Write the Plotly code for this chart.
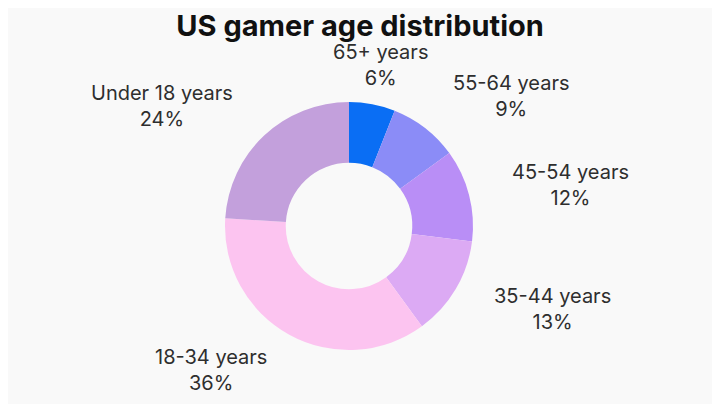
import math
import plotly.graph_objects as go

age_groups = ["65+ years", "55-64 years", "45-54 years", "35-44 years", "18-34 years", "Under 18 years"]
shares = [6, 9, 12, 13, 36, 24]
slice_colors = ["#0a6ef4", "#8b8cf7", "#b98ef6", "#dcaaf4", "#fcc4f0", "#c3a0dc"]

# donut geometry in px (figure coords)
W, H = 720, 404
cx, cy = 341, 186          # centre, y measured from bottom
R = 124
label_rx, label_ry = 166, 164

fig = go.Figure(go.Pie(
    labels=age_groups,
    values=shares,
    hole=0.51,
    sort=False,
    direction="clockwise",
    rotation=0,
    marker=dict(colors=slice_colors, line=dict(width=0)),
    textinfo="none",
    hoverinfo="label+percent",
    domain=dict(x=[(cx - R) / W, (cx + R) / W], y=[(cy - R) / H, (cy + R) / H]),
    showlegend=False,
))

# outside labels placed around the mid angle of each slice
total = sum(shares)
cum = 0
for lab, v in zip(age_groups, shares):
    mid = (cum + v / 2) / total * 2 * math.pi
    cum += v
    s, c = math.sin(mid), math.cos(mid)
    if abs(s) < 0.3:
        xa = "center"
    else:
        xa = "left" if s > 0 else "right"
    fig.add_annotation(
        x=(cx + label_rx * s) / W, y=(cy + label_ry * c) / H,
        xref="paper", yref="paper", xanchor=xa, yanchor="middle",
        text=f"{lab}<br>{round(v / total * 100)}%", showarrow=False, align="center",
        font=dict(family="Inter", size=20, color="#2e2e2e"),
    )

fig.update_layout(
    width=W, height=H,
    margin=dict(l=0, r=0, t=0, b=0),
    paper_bgcolor="#f9f9f9",
    plot_bgcolor="#f9f9f9",
    title=dict(text="<b>US gamer age distribution</b>", x=0.489, xanchor="center",
               y=0.955, yanchor="middle",
               font=dict(family="Inter", size=29, color="#111111")),
)

fig.write_html("out.html")
